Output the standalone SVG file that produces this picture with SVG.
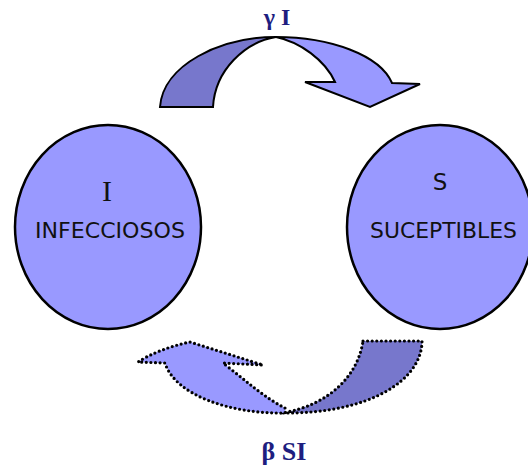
<svg xmlns="http://www.w3.org/2000/svg" width="528" height="470" viewBox="0 0 528 470">
  <style>
    .circle { fill: #9999ff; stroke: #000; stroke-width: 2.5; }
    .light { fill: #9999ff; }
    .dark { fill: #7777cc; }
    .solid { stroke: #000; stroke-width: 2; stroke-linejoin: miter; }
    .dotted { stroke: #000; stroke-width: 3.2; stroke-linecap: round; stroke-linejoin: round; stroke-dasharray: 0 4.6; }
    .sans { font-family: "DejaVu Sans", Verdana, sans-serif; fill: #111; }
    .serif { font-family: "Liberation Serif", "Times New Roman", serif; }
    .rate { font-family: "Liberation Serif", "Times New Roman", serif; font-weight: bold; fill: #1e1e80; }
  </style>
  <rect width="528" height="470" fill="#fff"/>

  <g id="node-I">
    <ellipse class="circle" cx="108" cy="227" rx="93" ry="102"/>
    <text class="serif" x="107" y="201" font-size="30" text-anchor="middle" fill="#111">I</text>
    <text class="sans" x="35" y="238" font-size="20.5" textLength="150" lengthAdjust="spacingAndGlyphs">INFECCIOSOS</text>
  </g>

  <g id="node-S">
    <ellipse class="circle" cx="440" cy="227" rx="93" ry="102"/>
    <text class="sans" x="440" y="190" font-size="23" text-anchor="middle">S</text>
    <text class="sans" x="370" y="238" font-size="20.5" textLength="147" lengthAdjust="spacingAndGlyphs">SUCEPTIBLES</text>
  </g>

  <g id="connectors">
    <g id="arrow-gamma">
      <path class="dark solid" d="M160,107 C163,65 220,37 276,37 C245,42 215,70 213,107 Z"/>
      <path class="light solid" d="M276,37 C330,37 380,55 392,83 L420,84 L370,107 L305,82 L335,82 C325,60 300,42 276,37 Z"/>
    </g>
    <g id="arrow-beta">
      <path class="dark dotted" d="M363,341 L422,341 C422,380 370,414 282,413 C330,405 358,375 363,341 Z"/>
      <path class="light dotted" d="M285,408 C265,398 245,380 223,363 L263,365 L190,342 C170,346 150,354 138,362 L165,363 C175,395 230,414 285,413 Z"/>
    </g>
  </g>

  <g id="labels">
    <text class="rate" x="277" y="25" font-size="24" text-anchor="middle">γ I</text>
    <text class="rate" x="284" y="460" font-size="26" text-anchor="middle">β SI</text>
  </g>
</svg>
